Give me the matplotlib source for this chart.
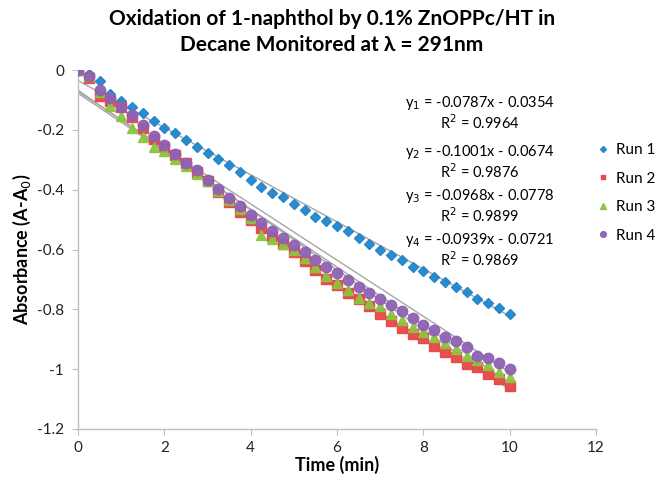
import matplotlib
matplotlib.use("Agg")
import matplotlib.pyplot as plt
import numpy as np

time_min = [i * 0.25 for i in range(41)]

run1 = [0, -0.012, -0.036, -0.080, -0.103, -0.125, -0.145, -0.170, -0.193, -0.212,
        -0.234, -0.259, -0.277, -0.299, -0.318, -0.342, -0.368, -0.392, -0.410, -0.426,
        -0.449, -0.468, -0.490, -0.505, -0.522, -0.538, -0.563, -0.582, -0.602, -0.619,
        -0.635, -0.658, -0.672, -0.691, -0.708, -0.727, -0.741, -0.764, -0.778, -0.795, -0.814]
run2 = [0, -0.026, -0.086, -0.105, -0.125, -0.156, -0.195, -0.232, -0.256, -0.284,
        -0.312, -0.340, -0.372, -0.407, -0.440, -0.474, -0.502, -0.528, -0.556, -0.583,
        -0.610, -0.638, -0.667, -0.697, -0.719, -0.747, -0.767, -0.790, -0.814, -0.838,
        -0.861, -0.881, -0.897, -0.921, -0.944, -0.959, -0.984, -0.994, -1.017, -1.034, -1.056]
run3 = [0, -0.020, -0.072, -0.119, -0.153, -0.193, -0.223, -0.256, -0.271, -0.299,
        -0.321, -0.346, -0.372, -0.405, -0.435, -0.465, -0.495, -0.552, -0.566, -0.580,
        -0.600, -0.630, -0.660, -0.689, -0.713, -0.736, -0.762, -0.780, -0.790, -0.814,
        -0.835, -0.858, -0.875, -0.892, -0.914, -0.931, -0.957, -0.970, -0.987, -1.009, -1.026]
run4 = [0, -0.019, -0.067, -0.095, -0.123, -0.150, -0.184, -0.221, -0.251, -0.281,
        -0.312, -0.335, -0.367, -0.398, -0.427, -0.455, -0.484, -0.512, -0.539, -0.563,
        -0.585, -0.610, -0.635, -0.658, -0.680, -0.702, -0.725, -0.747, -0.766, -0.785,
        -0.806, -0.830, -0.852, -0.870, -0.891, -0.905, -0.927, -0.955, -0.964, -0.981, -0.998]

run_labels = ["Run 1", "Run 2", "Run 3", "Run 4"]
slopes = [-0.0787, -0.1001, -0.0968, -0.0939]
intercepts = [-0.0354, -0.0674, -0.0778, -0.0721]
r_squared = [0.9964, 0.9876, 0.9899, 0.9869]

x_ticks = [0, 2, 4, 6, 8, 10, 12]
y_ticks = [0, -0.2, -0.4, -0.6, -0.8, -1, -1.2]
y_tick_labels = ["0", "-0.2", "-0.4", "-0.6", "-0.8", "-1", "-1.2"]

plt.rcParams['font.family'] = ['Lato', 'DejaVu Sans']

fig = plt.figure(figsize=(6.55, 4.79), dpi=100)
ax = fig.add_axes([78 / 655, 1 - 429 / 479, (596 - 78) / 655, (429 - 70) / 479])

series = [run1, run2, run3, run4]
markers = ["D", "s", "^", "o"]
sizes = [5.5, 6.5, 7, 7.5]
colors = ["#2185CB", "#E84545", "#8CC43F", "#8E62B4"]

# trendlines
xl = np.array([0, 10])
for m, b in zip(slopes, intercepts):
    ax.plot(xl, m * xl + b, color="#A6A6A6", lw=1.0, zorder=2)

for ys, mk, ms, c, lab in zip(series, markers, sizes, colors, run_labels):
    ax.plot(time_min, ys, linestyle="none", marker=mk, markersize=ms, color=c,
            markeredgecolor=c, label=lab, zorder=3, alpha=0.95)

ax.set_xlim(0, 12)
ax.set_ylim(-1.2, 0)
ax.set_xticks(x_ticks)
ax.set_yticks(y_ticks)
ax.set_yticklabels(y_tick_labels)
for s in ["top", "right"]:
    ax.spines[s].set_visible(False)
for s in ["left", "bottom"]:
    ax.spines[s].set_color("#BFBFBF")
    ax.spines[s].set_linewidth(1.0)
ax.tick_params(axis="both", colors="#BFBFBF", labelcolor="#222222", labelsize=11,
               length=4, direction="out")
ax.tick_params(axis="x", pad=5)
ax.tick_params(axis="y", pad=6)

ax.set_xlabel("Time (min)", fontsize=13, fontweight="bold", labelpad=0)
ax.set_ylabel("Absorbance (A-A$_0$)", fontsize=13, fontweight="bold", labelpad=3)

fig.text(0.507, 0.982, "Oxidation of 1-naphthol by 0.1% ZnOPPc/HT in\nDecane Monitored at λ = 291nm",
         ha="center", va="top", fontsize=15, fontweight="bold", linespacing=1.4)

eq_y = [103, 152, 196, 240]
for i, (m, b, r2) in enumerate(zip(slopes, intercepts, r_squared)):
    sign = "-" if b < 0 else "+"
    fig.text(480 / 655, 1 - eq_y[i] / 479,
             f"y$_{i+1}$ = {m:.4f}x {sign} {abs(b):.4f}",
             ha="center", va="center", fontsize=10.5)
    fig.text(480 / 655, 1 - (eq_y[i] + 20) / 479,
             f"R$^2$ = {r2:.4f}", ha="center", va="center", fontsize=10.5)

leg = ax.legend(loc="upper left", bbox_to_anchor=(592 / 655, 1 - 137 / 479),
                bbox_transform=fig.transFigure, frameon=False, fontsize=11,
                handlelength=0.6, handletextpad=0.6, labelspacing=0.95, markerscale=0.55,
                borderaxespad=0)

fig.savefig("out.png", dpi=100)
